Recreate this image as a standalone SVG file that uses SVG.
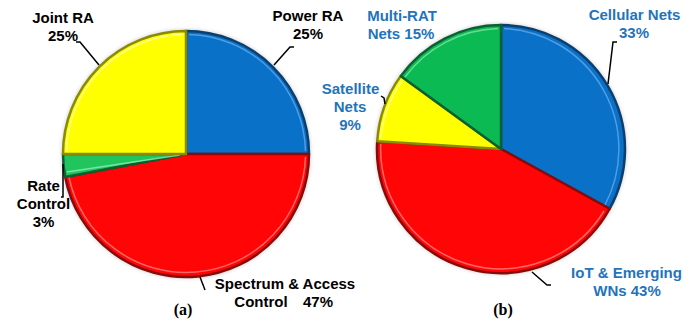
<svg xmlns="http://www.w3.org/2000/svg" width="699" height="322" viewBox="0 0 699 322">
<defs>
<filter id="sh" x="-20%" y="-20%" width="140%" height="140%">
<feDropShadow dx="0" dy="0" stdDeviation="2.5" flood-color="#000" flood-opacity="0.35"/>
</filter>
<style>
.lb{font-family:"Liberation Sans",Arial,sans-serif;font-weight:bold;font-size:15px;fill:#000;text-anchor:middle}
.bl{fill:#1F74BC}
.cap{font-family:"Liberation Serif","Times New Roman",serif;font-weight:bold;font-size:16px;fill:#000;text-anchor:middle}
.ld{fill:none;stroke:#000;stroke-width:1.5}
.blue{fill:#0A71C9;stroke:#0B3F6E;stroke-width:2.5;stroke-linejoin:round}
.red{fill:#FF0505;stroke:#8A0A0A;stroke-width:2.5;stroke-linejoin:round}
.yel{fill:#FFFF00;stroke:#8A8A00;stroke-width:2.5;stroke-linejoin:round}
.grn{fill:#0BBA52;stroke:#0A6030;stroke-width:2.5;stroke-linejoin:round}
.grnA{fill:#22C45E;stroke:#0A6030;stroke-width:2.5;stroke-linejoin:round}
.hl{fill:none;stroke-width:1.5;opacity:0.8}
</style>
</defs>
<rect width="699" height="322" fill="#fff"/>

<g id="pie-a">
<circle cx="186" cy="154" r="123" fill="#888" filter="url(#sh)"/>
<g id="a-power">
<path class="blue" d="M186,154 L186,31 A123,123 0 0,1 309,154 Z"/>
<path class="hl" stroke="#5FA8E8" d="M189,34.5 A119.5,119.5 0 0,1 305.5,151"/>
</g>
<g id="a-spectrum">
<path class="red" d="M186,154 L309,154 A123,123 0 0,1 65.18,177.05 Z"/>
<path class="hl" stroke="#FF8080" d="M305.5,157 A119.5,119.5 0 0,1 69,177"/>
</g>
<g id="a-rate">
<path class="grnA" d="M186,154 L65.18,177.05 A123,123 0 0,1 63,154 Z"/>
<path class="hl" stroke="#8AF0B0" d="M67,172 L180,155"/>
</g>
<g id="a-joint">
<path class="yel" d="M186,154 L63,154 A123,123 0 0,1 186,31 Z"/>
<path class="hl" stroke="#FFFFB0" d="M66.5,151 A119.5,119.5 0 0,1 183,34.5"/>
</g>
</g>

<g id="pie-b">
<circle cx="501" cy="149" r="124" fill="#888" filter="url(#sh)"/>
<g id="b-cellular">
<path class="blue" d="M501,149 L501,25 A124,124 0 0,1 609.66,208.74 Z"/>
<path class="hl" stroke="#5FA8E8" d="M504,28.5 A120.5,120.5 0 0,1 605,205"/>
</g>
<g id="b-iot">
<path class="red" d="M501,149 L609.66,208.74 A124,124 0 0,1 377.24,141.21 Z"/>
<path class="hl" stroke="#FF8080" d="M604,211 A120.5,120.5 0 0,1 380.7,144"/>
</g>
<g id="b-satellite">
<path class="yel" d="M501,149 L377.24,141.21 A124,124 0 0,1 400.68,76.11 Z"/>
<path class="hl" stroke="#FFFFB0" d="M380.8,138 A120.5,120.5 0 0,1 402,81"/>
</g>
<g id="b-multirat">
<path class="grn" d="M501,149 L400.68,76.11 A124,124 0 0,1 501,25 Z"/>
<path class="hl" stroke="#7BE5A5" d="M405,77 A120.5,120.5 0 0,1 498,28.5"/>
</g>
</g>

<g id="connectors">
<polyline class="ld" points="76,42 80,42 99,65"/>
<polyline class="ld" points="294,47 290,47 274,65"/>
<polyline class="ld" points="63,164 63,197 61,197"/>
<polyline class="ld" points="200,277 205,290"/>
<polyline class="ld" points="617,42 613,42 608,84"/>
<polyline class="ld" points="381,96 384,98 385,104"/>
<polyline class="ld" points="532,272 547,285 551,285"/>
</g>

<g id="labels-a">
<text class="lb" x="63" y="23">Joint RA</text>
<text class="lb" x="63" y="41">25%</text>
<text class="lb" x="308" y="21">Power RA</text>
<text class="lb" x="308" y="39">25%</text>
<text class="lb" x="43.5" y="191">Rate</text>
<text class="lb" x="43.5" y="209">Control</text>
<text class="lb" x="43.5" y="227">3%</text>
<text class="lb" x="285" y="289">Spectrum &amp; Access</text>
<text class="lb" x="261" y="307">Control</text>
<text class="lb" x="318" y="307">47%</text>
<text class="cap" x="183" y="315">(a)</text>
</g>

<g id="labels-b">
<text class="lb bl" x="402" y="21">Multi-RAT</text>
<text class="lb bl" x="401" y="39">Nets 15%</text>
<text class="lb bl" x="634.5" y="20">Cellular Nets</text>
<text class="lb bl" x="634" y="38">33%</text>
<text class="lb bl" x="350.5" y="94">Satellite</text>
<text class="lb bl" x="350" y="112">Nets</text>
<text class="lb bl" x="350" y="130">9%</text>
<text class="lb bl" x="626.5" y="278">IoT &amp; Emerging</text>
<text class="lb bl" x="627" y="296">WNs 43%</text>
<text class="cap" x="503" y="315">(b)</text>
</g>
</svg>
